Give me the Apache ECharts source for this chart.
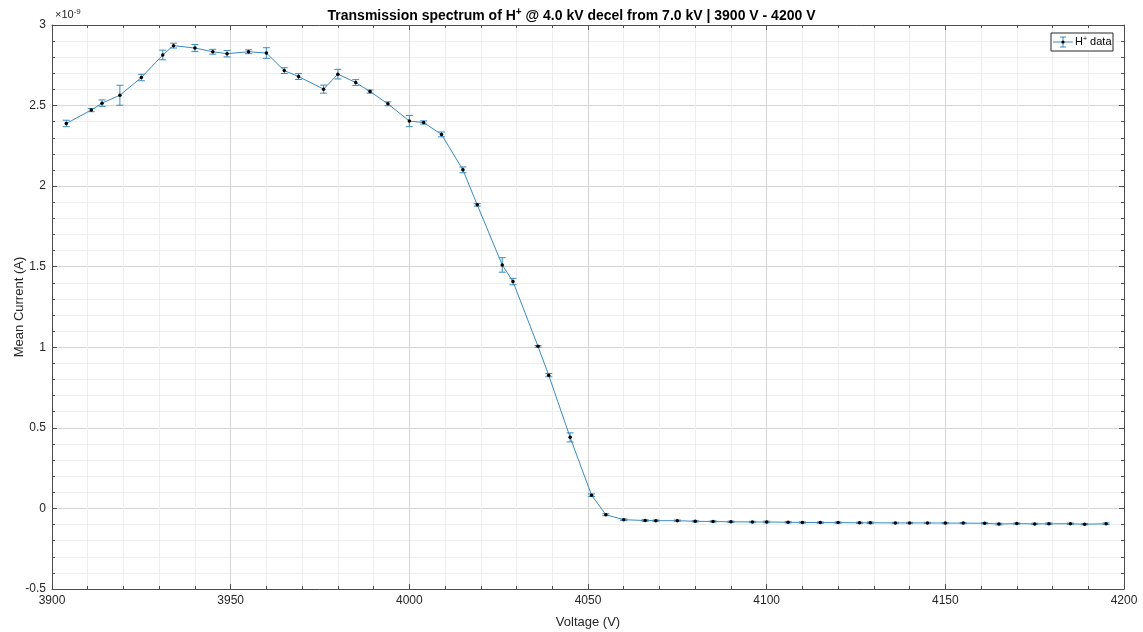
<!DOCTYPE html>
<html>
<head>
<meta charset="utf-8">
<script src="https://cdn.jsdelivr.net/npm/echarts@6/dist/echarts.min.js"></script>
<style>
html,body{margin:0;padding:0;background:#fff;}
#chart{width:1143px;height:632px;}
</style>
</head>
<body>
<div id="chart"></div>
<script>
// Voltage (V)
const voltages = [3904,3911,3914,3919,3925,3931,3934,3940,3945,3949,3955,3960,3965,3969,3976,3980,3985,3989,3994,4000,4004,4009,4015,4019,4026,4029,4036,4039,4045,4051,4055,4060,4066,4069,4075,4080,4085,4090,4096,4100,4106,4110,4115,4120,4126,4129,4136,4140,4145,4150,4155,4161,4165,4170,4175,4179,4185,4189,4195];
// Mean current, in units of 1e-9 A
const currents = [2.389,2.472,2.515,2.564,2.674,2.814,2.872,2.857,2.834,2.822,2.834,2.826,2.717,2.680,2.602,2.695,2.643,2.587,2.511,2.404,2.395,2.321,2.101,1.884,1.511,1.408,1.006,0.827,0.441,0.082,-0.039,-0.070,-0.075,-0.076,-0.076,-0.080,-0.081,-0.083,-0.084,-0.084,-0.086,-0.087,-0.088,-0.088,-0.089,-0.089,-0.090,-0.090,-0.090,-0.091,-0.091,-0.092,-0.097,-0.094,-0.096,-0.095,-0.095,-0.098,-0.095];
// Error (half-width), units of 1e-9 A
const errors = [0.020,0.010,0.020,0.062,0.020,0.030,0.015,0.022,0.015,0.020,0.012,0.033,0.018,0.018,0.025,0.030,0.018,0.010,0.012,0.035,0.010,0.015,0.018,0.008,0.045,0.020,0.005,0.010,0.028,0.008,0.006,0.005,0.005,0.004,0.004,0.004,0.004,0.004,0.004,0.005,0.004,0.004,0.004,0.004,0.004,0.005,0.004,0.004,0.004,0.004,0.004,0.004,0.005,0.004,0.004,0.005,0.004,0.004,0.005];
const xTicks = [3900,3950,4000,4050,4100,4150,4200];
const yTicks = [-0.5,0,0.5,1,1.5,2,2.5,3];

const blue = '#3a8cc0';
const lineData = voltages.map((v,i)=>[v,currents[i]]);
const errData = voltages.map((v,i)=>[v,currents[i],errors[i]]);

const chart = echarts.init(document.getElementById('chart'));
const font = 'Liberation Sans, Arial, Helvetica, sans-serif';
const axisCommon = {
  axisLine:{show:true,onZero:false,lineStyle:{color:'#4d4d4d',width:1}},
  axisTick:{show:true,inside:true,length:5,lineStyle:{color:'#4d4d4d'}},
  minorTick:{show:true,splitNumber:5,length:3,lineStyle:{color:'#4d4d4d'}}
};
chart.setOption({
  animation:false,
  backgroundColor:'#fff',
  textStyle:{fontFamily:font},
  title:{
    text:'{a|Transmission spectrum of H}{s|+}{a| @ 4.0 kV decel from 7.0 kV | 3900 V - 4200 V}',
    left:'center', top:2,
    textStyle:{rich:{
      a:{fontFamily:font,fontSize:14,fontWeight:'bold',color:'#000'},
      s:{fontFamily:font,fontSize:10,fontWeight:'bold',color:'#000',verticalAlign:'top',padding:[0,0,8,0]}
    }}
  },
  grid:{left:52,right:19,top:25,bottom:43,containLabel:false,outerBoundsMode:'none'},
  xAxis:[{
    type:'value',min:xTicks[0],max:xTicks[xTicks.length-1],interval:50,
    name:'Voltage (V)',nameLocation:'middle',nameGap:27,nameMoveOverlap:false,
    nameTextStyle:{fontFamily:font,fontSize:13,color:'#262626'},
    axisLabel:{fontFamily:font,fontSize:12,color:'#262626',margin:6,formatter:v=>String(v)},
    splitLine:{show:true,lineStyle:{color:'#d4d4d4'}},
    minorSplitLine:{show:true,lineStyle:{color:'#eeeeee'}},
    ...axisCommon
  },{
    type:'value',position:'top',min:xTicks[0],max:xTicks[xTicks.length-1],interval:50,
    axisLabel:{show:false},splitLine:{show:false},
    ...axisCommon
  }],
  yAxis:[{
    type:'value',min:yTicks[0],max:yTicks[yTicks.length-1],interval:0.5,
    name:'Mean Current (A)',nameLocation:'middle',nameGap:26,nameMoveOverlap:false,
    nameTextStyle:{fontFamily:font,fontSize:13,color:'#262626'},
    axisLabel:{fontFamily:font,fontSize:12,color:'#262626',margin:6,formatter:v=>String(v)},
    splitLine:{show:true,lineStyle:{color:'#d4d4d4'}},
    minorSplitLine:{show:true,lineStyle:{color:'#eeeeee'}},
    ...axisCommon
  },{
    type:'value',position:'right',min:yTicks[0],max:yTicks[yTicks.length-1],interval:0.5,
    axisLabel:{show:false},splitLine:{show:false},
    ...axisCommon
  }],
  series:[{
    type:'custom',
    name:'err',
    data:errData,
    encode:{x:0,y:1},
    z:3,
    renderItem:function(params,api){
      const x=api.value(0), y=api.value(1), e=api.value(2);
      const t=api.coord([x,y+e]), b=api.coord([x,y-e]);
      const hw=3.5;
      const st={stroke:blue,lineWidth:1};
      return {type:'group',children:[
        {type:'line',shape:{x1:t[0],y1:t[1],x2:b[0],y2:b[1]},style:st},
        {type:'line',shape:{x1:t[0]-hw,y1:t[1],x2:t[0]+hw,y2:t[1]},style:st},
        {type:'line',shape:{x1:b[0]-hw,y1:b[1],x2:b[0]+hw,y2:b[1]},style:st}
      ]};
    }
  },{
    type:'line',
    name:'H+ data',
    data:lineData,
    z:4,
    symbol:'circle',symbolSize:3.5,
    showSymbol:true,
    itemStyle:{color:'#000'},
    lineStyle:{color:blue,width:1}
  }],
  graphic:[
    {type:'text',left:55,top:8,style:{
      text:'{a|×10}{s|-9}',
      rich:{a:{fontFamily:font,fontSize:11,fill:'#262626'},s:{fontFamily:font,fontSize:8,fill:'#262626',verticalAlign:'top',padding:[0,0,6,0]}}
    }},
    {type:'rect',shape:{x:1051,y:33,width:62,height:18},style:{fill:'#fff',stroke:'#262626',lineWidth:1},z:10},
    {type:'line',shape:{x1:1053,y1:42,x2:1073,y2:42},style:{stroke:blue,lineWidth:1},z:11},
    {type:'line',shape:{x1:1063,y1:37,x2:1063,y2:47},style:{stroke:blue,lineWidth:1},z:11},
    {type:'line',shape:{x1:1060,y1:37,x2:1066,y2:37},style:{stroke:blue,lineWidth:1},z:11},
    {type:'line',shape:{x1:1060,y1:47,x2:1066,y2:47},style:{stroke:blue,lineWidth:1},z:11},
    {type:'circle',shape:{cx:1063,cy:42,r:1.6},style:{fill:'#000'},z:12},
    {type:'text',left:1075,top:36,z:12,style:{
      text:'{a|H}{s|+}{a| data}',
      rich:{a:{fontFamily:font,fontSize:11,fill:'#000'},s:{fontFamily:font,fontSize:7,fill:'#000',verticalAlign:'top',padding:[0,0,5,0]}}
    }}
  ]
});
</script>
</body>
</html>
